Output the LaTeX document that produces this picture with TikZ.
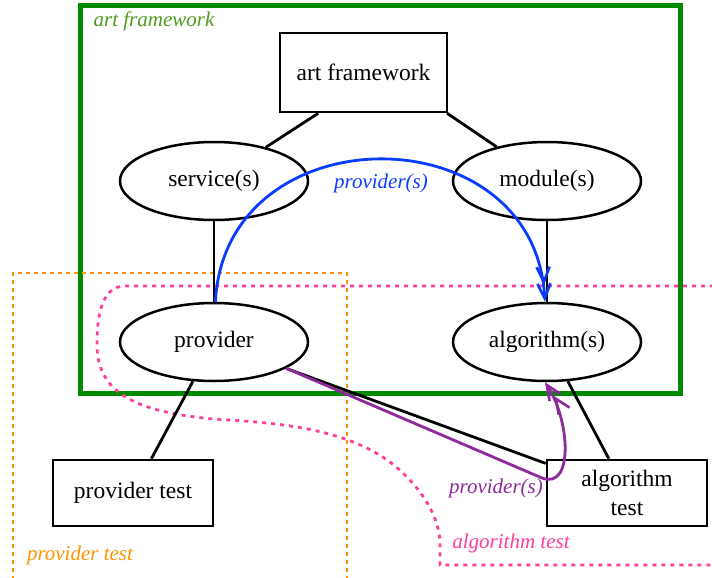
\documentclass[tikz,border=0pt]{standalone}
\usepackage{fontspec}
\setmainfont{Liberation Serif}
\newfontfamily\diagfont{Liberation Serif}
\usetikzlibrary{shapes.geometric,arrows.meta}
\definecolor{framegreen}{HTML}{008A00}
\definecolor{labelgreen}{HTML}{4E9C1E}
\definecolor{orangeline}{HTML}{FF9400}
\definecolor{pinkline}{HTML}{FF3D9A}
\definecolor{blueline}{HTML}{0A3CFF}
\definecolor{purpleline}{HTML}{8E2A9C}
\tikzset{
  every node/.style={font=\diagfont\fontsize{23.5}{29}\selectfont},
  ellnode/.style={ellipse,draw,line width=2.5pt,minimum width=188pt,minimum height=78pt,inner sep=0pt},
  boxnode/.style={rectangle,draw,line width=2.5pt,inner sep=0pt,align=center},
  conn/.style={line width=2.8pt},
  grouplabel/.style={font=\diagfont\fontsize{21}{24}\selectfont\itshape,inner sep=0pt},
  dbltip/.style={-{Straight Barb[length=15pt,width=13pt,line width=2.6pt,sep=-3pt] Straight Barb[length=15pt,width=13pt,line width=2.6pt]}},
}
\begin{document}
\begin{tikzpicture}[x=1pt,y=-1pt]
\useasboundingbox (0,0) rectangle (712,578);
% groups
\draw[framegreen,line width=5pt] (80,6) rectangle (680,393);
\node[grouplabel,text=labelgreen] (lblafw) at (154,21) {art framework};
\draw[orangeline,line width=2.8pt,dash pattern=on 4pt off 4pt] (13,580) -- (13,273) -- (347,273) -- (347,580);
\node[grouplabel,text=orangeline] (lblpt) at (80,555) {provider test};
\draw[pinkline,line width=2.8pt,dash pattern=on 4pt off 5pt] (714,286) -- (125,286)
  .. controls (100,286) and (97,320) .. (97,345)
  .. controls (97,395) and (140,412) .. (213,419)
  .. controls (280,423) and (358,428) .. (405,475)
  .. controls (435,505) and (440,530) .. (440,545)
  -- (440,565) -- (714,565);
\node[grouplabel,text=pinkline] (lblat) at (511,543) {algorithm test};
% nodes
\node[boxnode,minimum width=167pt,minimum height=79pt,fill=white] (afw) at (363.5,72.5) {art framework};
\node[ellnode,fill=white] (svc) at (214,181) {service(s)};
\node[ellnode,fill=white] (mod) at (547,181) {module(s)};
\node[ellnode,fill=white] (prov) at (214,342) {provider};
\node[ellnode,fill=white] (algo) at (547,342) {algorithm(s)};
\node[boxnode,minimum width=160pt,minimum height=66pt,fill=white] (ptest) at (133,493) {provider test};
\node[boxnode,minimum width=160pt,minimum height=66pt,fill=white,text width=150pt] (atest) at (627,493) {algorithm\\test};
% connectors
\draw[conn] (afw.222) -- (svc);
\draw[conn] (afw.-26.4) -- (mod);
\draw[conn] (svc) -- (prov);
\draw[conn] (mod) -- (algo);
\draw[conn] (prov) -- (ptest);
\draw[conn] (algo) -- (atest);
\draw[conn] (prov) -- (atest);
% provider(s) arrows
\draw[blueline,line width=2.8pt,dbltip] (prov.88) .. controls (225,112) and (535,112) .. (algo.93);
\node[grouplabel,text=blueline] (lblblue) at (381,183) {provider(s)};
\draw[purpleline,line width=2.8pt,dbltip] (prov.-20) -- (542,478) .. controls (574,490) and (570,420) .. (algo.-93);
\node[grouplabel,text=purpleline] (lblpurple) at (496,488) {provider(s)};
\end{tikzpicture}
\end{document}
